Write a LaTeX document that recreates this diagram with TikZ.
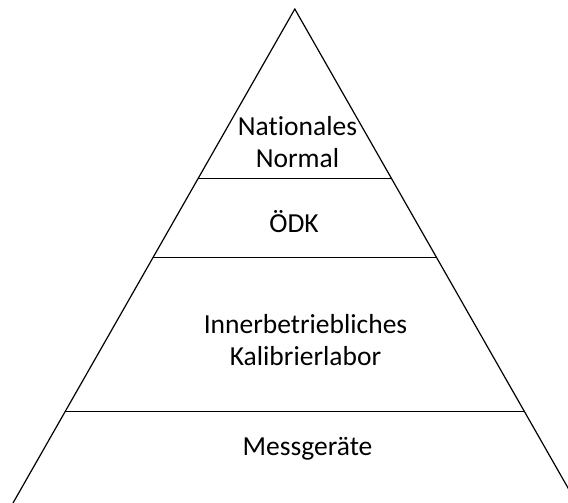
\documentclass[tikz,border=0pt]{standalone}
\usepackage{fontspec}
\setmainfont[Ligatures=CommonOff]{Carlito}
\usepackage{tikz}

\begin{document}
\begin{tikzpicture}[x=1pt,y=-1pt,
    side/.style={line width=1.2pt},
    level/.style={line width=0.8pt},
    label/.style={align=center,font=\fontsize{27.5}{32}\selectfont,inner sep=0pt}]
            \useasboundingbox (0,0) rectangle (568,503);
            \clip (0,0) rectangle (568,503);
            \coordinate (top) at (294.8,9);
            \draw[side] (13,503) -- (top) -- (576.6,503);
            \foreach \y in {178, 257, 411}
                \draw[level] ({294.8-(\y-9)*0.5707},\y) -- ({294.8+(\y-9)*0.5707},\y);
            \node[label] (normal) at (297.5,142) {Nationales\\Normal};
            \node[label] (oedk) at (294,222) {ÖDK};
            \node[label] (labor) at (305.5,340) {Innerbetriebliches\\Kalibrierlabor};
            \node[label] (geraete) at (307.5,449) {Messgeräte};
        \end{tikzpicture}
\end{document}
